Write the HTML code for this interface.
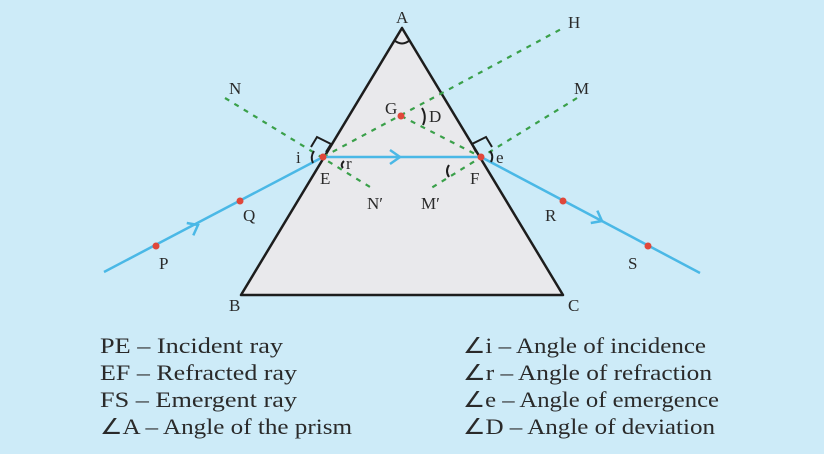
<!DOCTYPE html>
<html><head><meta charset="utf-8"><style>
html,body{margin:0;padding:0;background:#cdebf8;}
svg{display:block}
text{font-family:"Liberation Serif",serif;fill:#2a2a2a}
</style></head><body>
<svg width="824" height="454" viewBox="0 0 824 454" xmlns="http://www.w3.org/2000/svg">
<rect width="824" height="454" fill="#cdebf8"/>
<polygon points="402,28 241,295 563,295" fill="#e9e9ec" stroke="#1d1d1d" stroke-width="2.5" stroke-linejoin="round"/>
<g stroke="#3aa04a" stroke-width="2.2" stroke-dasharray="5,6" fill="none">
<line x1="225" y1="98" x2="375" y2="190"/>
<line x1="577" y1="98" x2="428" y2="190"/>
<line x1="323" y1="157" x2="565" y2="27"/>
<line x1="401" y1="116" x2="481" y2="157"/>
</g>
<g stroke="#4ab8e6" stroke-width="2.5" fill="none">
<line x1="104" y1="272" x2="323" y2="157"/>
<line x1="323" y1="157" x2="481" y2="157"/>
<line x1="481" y1="157" x2="700" y2="273"/>
<polyline points="390,150 400,157 390,164"/>
<polyline points="-9,-7 0,0 -9,7" transform="translate(198,225) rotate(-27.7)"/>
<polyline points="-9,-7 0,0 -9,7" transform="translate(602,221) rotate(27.9)"/>
</g>
<g stroke="#1d1d1d" stroke-width="2" fill="none">
<path d="M394,40 Q402,47 410,40"/>
<polyline points="311,147 317,137 331,144 326,152"/>
<polyline points="476,152 472,144 486,137 492,147"/>
<path d="M314,151 Q310,157 313,163"/>
<path d="M344,161 Q340,165 343,168"/>
<path d="M490,151 Q494,156 491,162"/>
<path d="M422,108 Q427,116 423,125"/>
<path d="M449,165 Q445,171 449,177"/>
</g>
<g fill="#e0473a">
<circle cx="323" cy="157" r="3.5"/><circle cx="481" cy="157" r="3.5"/>
<circle cx="401" cy="116" r="3.5"/><circle cx="156" cy="246" r="3.5"/>
<circle cx="240" cy="201" r="3.5"/><circle cx="563" cy="201" r="3.5"/>
<circle cx="648" cy="246" r="3.5"/>
</g>
<g font-size="17">
<text x="396" y="23">A</text><text x="568" y="28">H</text>
<text x="229" y="94">N</text><text x="574" y="94">M</text>
<text x="385" y="114">G</text><text x="429" y="122">D</text>
<text x="296" y="163">i</text><text x="346" y="169">r</text>
<text x="496" y="163">e</text>
<text x="320" y="184">E</text><text x="470" y="184">F</text>
<text x="367" y="209">N′</text><text x="421" y="209">M′</text>
<text x="243" y="221">Q</text><text x="545" y="221">R</text>
<text x="159" y="269">P</text><text x="628" y="269">S</text>
<text x="229" y="311">B</text><text x="568" y="311">C</text>
</g>
<g font-size="22">
<text x="100" y="353" textLength="183" lengthAdjust="spacingAndGlyphs">PE – Incident ray</text>
<text x="100" y="380" textLength="197" lengthAdjust="spacingAndGlyphs">EF – Refracted ray</text>
<text x="100" y="407" textLength="197" lengthAdjust="spacingAndGlyphs">FS – Emergent ray</text>
<text x="100" y="434" textLength="252" lengthAdjust="spacingAndGlyphs">∠A – Angle of the prism</text>
<text x="463" y="353" textLength="243" lengthAdjust="spacingAndGlyphs">∠i – Angle of incidence</text>
<text x="463" y="380" textLength="249" lengthAdjust="spacingAndGlyphs">∠r – Angle of refraction</text>
<text x="463" y="407" textLength="256" lengthAdjust="spacingAndGlyphs">∠e – Angle of emergence</text>
<text x="463" y="434" textLength="252" lengthAdjust="spacingAndGlyphs">∠D – Angle of deviation</text>
</g>
</svg>
</body></html>
